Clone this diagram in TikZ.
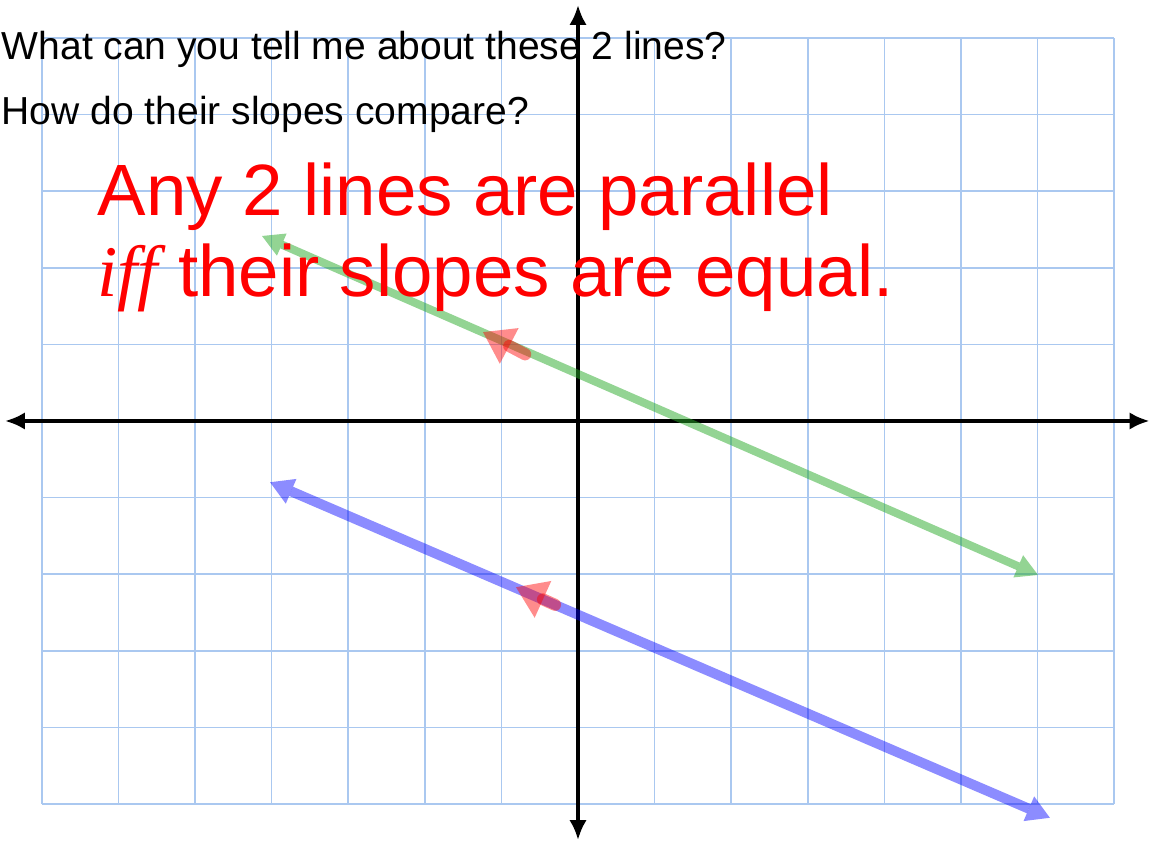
\documentclass[tikz,border=0pt]{standalone}
\usepackage{fontspec}
\setmainfont{Liberation Sans}
\newfontfamily\ifffont{Liberation Serif}
\usetikzlibrary{arrows.meta}
\definecolor{gridblue}{RGB}{170,200,240}
\definecolor{linegreen}{RGB}{40,170,40}
\definecolor{lineblue}{RGB}{0,0,255}

\begin{document}
\begin{tikzpicture}[
  gridln/.style={gridblue, line width=0.55pt},
  axis/.style={{Latex[length=7.4pt,width=6.5pt]}-{Latex[length=7.4pt,width=6.5pt]}, line width=1.4pt},
  lineg/.style={{Triangle[length=8pt,width=9pt,line width=0pt]}-{Triangle[length=8pt,width=9pt,line width=0pt]}, linegreen, opacity=0.5, line width=3pt},
  lineb/.style={{Triangle[length=8.5pt,width=10pt,line width=0pt]}-{Triangle[length=8.5pt,width=10pt,line width=0pt]}, lineblue, opacity=0.45, line width=3.7pt},
  redarr/.style={-{Triangle[length=11pt,width=15pt,line width=0pt]}, red, opacity=0.45, line width=4.5pt, line cap=round},
  qtext/.style={inner sep=0pt, font=\fontsize{14.5}{17}\selectfont},
  bigtext/.style={inner sep=0pt, text=red, font=\fontsize{27}{32}\selectfont}]
\clip (-7.546,-5.509) rectangle (7.467,5.496);
\useasboundingbox (-7.546,-5.509) rectangle (7.467,5.496);
% grid
\draw[gridln] (-7,-5) grid (7,5);
% axes
\draw[axis] (-7.48,0) -- (7.46,0);
\draw[axis] (0,-5.47) -- (0,5.43);
% questions
\node[qtext, anchor=base west] (q1) at (-7.53,4.713) {What can you tell me about these 2 lines?};
\node[qtext, anchor=base west] (q2) at (-7.53,3.864) {How do their slopes compare?};
% the two lines
\coordinate (g1) at (-4.125,2.415);
\coordinate (g2) at (6.005,-2.01);
\coordinate (b1) at (-4.02,-0.80);
\coordinate (b2) at (6.16,-5.18);
\draw[lineg] (g1) -- (g2);
\draw[lineb] (b1) -- (b2);
% slope arrows
\draw[redarr] (-0.69,0.87) -- (-1.24,1.16);
\draw[redarr] (-0.30,-2.40) -- (-0.81,-2.17);
% rule
\node[bigtext, anchor=base west] (rule1) at (-6.279,2.689) {Any 2 lines are parallel};
\node[bigtext, anchor=base west] (rule2) at (-6.279,1.619) {{\ifffont\itshape iff} their slopes are equal.};
\end{tikzpicture}
\end{document}
